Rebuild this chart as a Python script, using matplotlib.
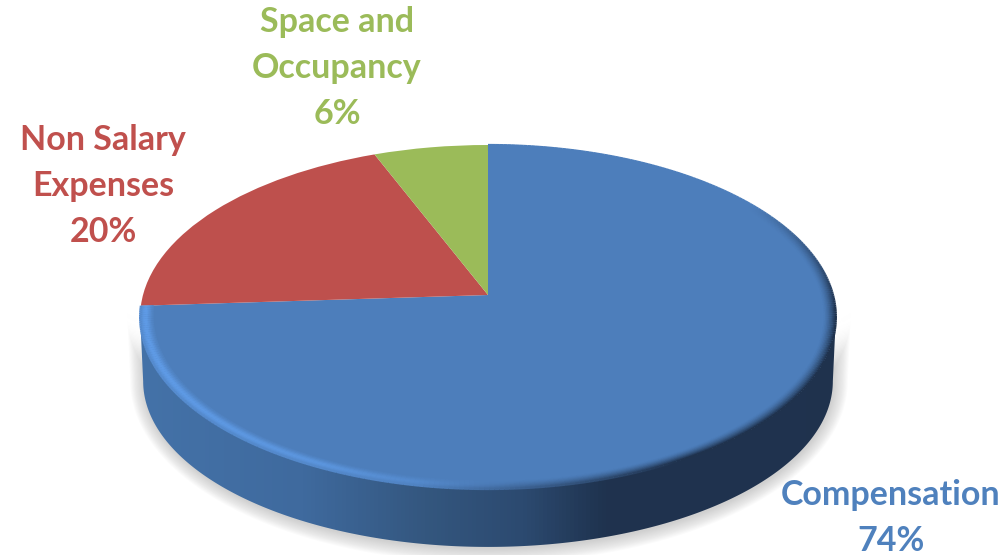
import numpy as np
import matplotlib
matplotlib.use('Agg')
import matplotlib.pyplot as plt
from matplotlib.collections import LineCollection
from matplotlib.colors import LinearSegmentedColormap, to_rgb
from matplotlib.patches import Polygon
from matplotlib.transforms import Transform

categories = ['Compensation', 'Non Salary\nExpenses', 'Space and\nOccupancy']
shares = [74, 20, 6]
colors = ['#4d7ebb', '#be504d', '#9bbb59']
text_colors = ['#4f81bd', '#c0504d', '#9bbb59']
label_pos = [(891, 518), (103, 186), (337, 68)]

WIDTH, HEIGHT = 1007, 555


class Tilt(Transform):
    # perspective view of the unit disc, returned in pixel coordinates
    input_dims = 2
    output_dims = 2

    def __init__(self, cx=488.0, cy=295.0, dx=345.0, dy=169.2, c=0.128):
        super().__init__()
        self.cx, self.cy, self.dx, self.dy, self.c = cx, cy, dx, dy, c

    def transform_non_affine(self, values):
        values = np.asarray(values, dtype=float)
        w = 1 + self.c * values[:, 1]
        return np.column_stack((self.cx + self.dx * values[:, 0] / w,
                                self.cy - self.dy * values[:, 1] / w))


def circle(theta):
    # theta runs clockwise from twelve o'clock
    return np.column_stack((np.sin(theta), np.cos(theta)))


top = Tilt()
base = Tilt(cy=360.0, dx=342.0, dy=163.0)

fig = plt.figure(figsize=(WIDTH / 100, HEIGHT / 100), dpi=100)
ax = fig.add_axes([0, 0, 1, 1])

# the disc is widest where cos(theta) = -c
widest = np.degrees(np.arccos(-top.c))
front = np.radians(np.linspace(widest, 360 - widest, 300))
wall_outline = np.vstack((top.transform(circle(front)), base.transform(circle(front))[::-1]))

# soft shadow under the disc
for grow in np.linspace(14, 0, 14):
    offset = wall_outline - [488, 400]
    scale = 1 + grow / np.abs(offset).max(axis=0)
    ax.add_patch(Polygon(offset * scale + [489, 402], closed=True,
                         fc='#8c8c8c', ec='none', alpha=0.03, zorder=1))

# side wall, lit from the left
wall_cmap = LinearSegmentedColormap.from_list('wall', [
    (0.0, '#4472a8'), (0.14, '#4472a8'), (0.30, '#3f6a9e'), (0.42, '#34577f'),
    (0.52, '#2c4a70'), (0.60, '#1f334f'), (1.0, '#1f324d')])
wall_image = ax.imshow(np.linspace(0, 1, WIDTH)[None, :], cmap=wall_cmap, vmin=0, vmax=1,
                       extent=(0, WIDTH, HEIGHT, 0), aspect='auto', zorder=2)
wall_patch = Polygon(wall_outline, closed=True, fc='none', ec='none', transform=ax.transData)
ax.add_patch(wall_patch)
wall_image.set_clip_path(wall_patch)

# top face
wedges, _ = ax.pie(shares, colors=colors, startangle=90, counterclock=False,
                   wedgeprops={'linewidth': 0, 'zorder': 3})
for wedge in wedges:
    wedge.set_transform(top + ax.transData)
    wedge.set_clip_on(False)

# bevel along the rim of the compensation slice: bright on the left, dark on the right
rim_light = np.array(to_rgb('#5f9be6'))
rim_dark = np.array(to_rgb('#1f324d'))
face = np.array(to_rgb(colors[0]))
end_angle = shares[0] / sum(shares) * 360
rim_angle = np.linspace(0, end_angle, 361)
light = np.interp(rim_angle, [0, 175, 205, 240, end_angle], [0, 0, 0.8, 1, 1])
dark = np.interp(rim_angle, [0, 55, 95, 150, 190], [0, 0, 1, 1, 0])
points = circle(np.radians(rim_angle))
for r in np.linspace(0.965, 1.0, 10):
    fade = (r - 0.965) / 0.035
    # the light band peaks inside the edge, the dark one at the edge
    lit = light * np.exp(-((fade - 0.6) / 0.45) ** 2)
    shade = dark * fade ** 1.5
    rgb = face + lit[:, None] * (rim_light - face) + shade[:, None] * (rim_dark - face)
    pts = points * r
    segs = np.stack((pts[:-1], pts[1:]), axis=1)
    lc = LineCollection(segs, colors=np.clip(rgb[:-1], 0, 1), linewidths=1.6,
                        transform=top + ax.transData, zorder=4, capstyle='butt')
    ax.add_collection(lc, autolim=False)

# labels
for name, share, pos, col in zip(categories, shares, label_pos, text_colors):
    ax.text(pos[0], pos[1], f'{name}\n{share}%', color=col, family='Lato', weight='bold',
            fontsize=24.5, ha='center', va='center', linespacing=1.54, zorder=5)

ax.set_xlim(0, WIDTH)
ax.set_ylim(HEIGHT, 0)
ax.axis('off')
fig.savefig('out.png', dpi=100)
